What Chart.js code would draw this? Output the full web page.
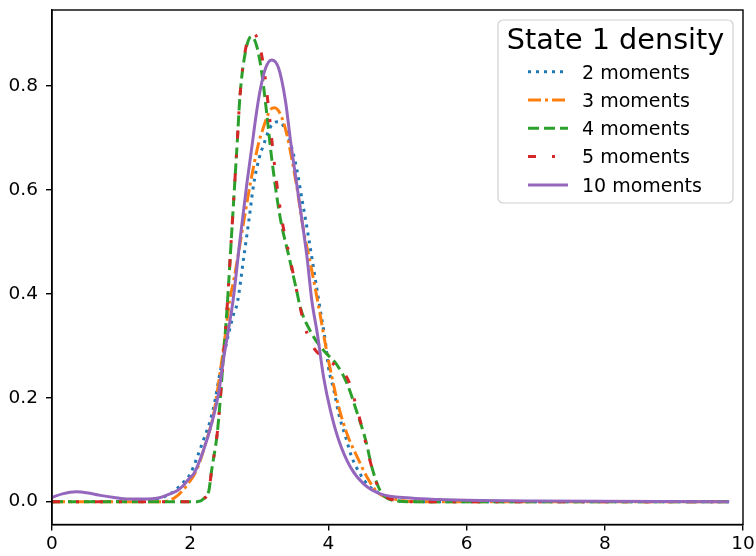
<!DOCTYPE html>
<html>
<head>
<meta charset="utf-8">
<script src="https://cdn.jsdelivr.net/npm/chart.js@4.4.1/dist/chart.umd.min.js"></script>
<style>
  html, body { margin: 0; padding: 0; background: #fff; }
  #wrap { width: 756px; height: 556px; }
</style>
</head>
<body>
<div id="wrap"><canvas id="densityChart" width="756" height="556"></canvas></div>
<script>
// values
const seriesNames = ['2 moments', '3 moments', '4 moments', '5 moments', '10 moments'];
const xTicks = [0, 2, 4, 6, 8, 10];
const yTicks = [0.0, 0.2, 0.4, 0.6, 0.8];

const x2 = [0, 1.2, 1.5, 1.7, 1.9, 2.0, 2.1, 2.19, 2.29, 2.36, 2.41, 2.5, 2.63, 2.68, 2.77, 2.85, 2.92, 2.99, 3.06, 3.18, 3.28, 3.4, 3.52, 3.62, 3.72, 3.79, 3.86, 3.96, 4.0, 4.08, 4.15, 4.25, 4.34, 4.46, 4.58, 4.75, 5.0, 5.3, 9.8];
const y2 = [0, 0.001, 0.005, 0.014, 0.037, 0.053, 0.085, 0.118, 0.156, 0.195, 0.233, 0.29, 0.362, 0.381, 0.465, 0.542, 0.612, 0.657, 0.686, 0.725, 0.731, 0.709, 0.654, 0.58, 0.503, 0.445, 0.387, 0.304, 0.259, 0.214, 0.169, 0.124, 0.085, 0.053, 0.031, 0.015, 0.002, 0, 0];

const x3 = [0, 1.6, 1.78, 1.95, 2.1, 2.22, 2.34, 2.43, 2.51, 2.57, 2.63, 2.77, 2.87, 2.99, 3.04, 3.16, 3.22, 3.3, 3.4, 3.47, 3.55, 3.64, 3.74, 3.81, 3.88, 3.96, 4.05, 4.15, 4.27, 4.42, 4.56, 4.71, 4.95, 5.3, 9.8];
const y3 = [0, 0, 0.008, 0.031, 0.063, 0.111, 0.169, 0.246, 0.323, 0.387, 0.426, 0.535, 0.612, 0.69, 0.712, 0.754, 0.758, 0.747, 0.706, 0.66, 0.6, 0.522, 0.458, 0.41, 0.36, 0.30, 0.24, 0.182, 0.13, 0.085, 0.047, 0.018, 0.005, 0, 0];

const x4 = [0, 2.1, 2.2, 2.27, 2.31, 2.39, 2.43, 2.48, 2.53, 2.6, 2.65, 2.68, 2.72, 2.8, 2.89, 2.97, 3.04, 3.11, 3.18, 3.3, 3.43, 3.55, 3.59, 3.76, 3.93, 4.13, 4.27, 4.42, 4.54, 4.63, 4.75, 4.95, 5.2, 9.8];
const y4 = [0, 0, 0.006, 0.021, 0.06, 0.13, 0.188, 0.278, 0.365, 0.516, 0.625, 0.69, 0.78, 0.866, 0.895, 0.873, 0.821, 0.744, 0.66, 0.548, 0.471, 0.40, 0.375, 0.323, 0.291, 0.262, 0.227, 0.169, 0.118, 0.066, 0.021, 0.002, 0, 0];

const x5 = [0, 2.1, 2.2, 2.27, 2.31, 2.39, 2.43, 2.48, 2.53, 2.6, 2.65, 2.68, 2.72, 2.8, 2.92, 3.0, 3.07, 3.14, 3.21, 3.32, 3.44, 3.55, 3.59, 3.64, 3.74, 3.91, 4.1, 4.29, 4.39, 4.5, 4.6, 4.72, 4.95, 5.2, 9.8];
const y5 = [0, 0, 0.006, 0.021, 0.06, 0.13, 0.188, 0.278, 0.365, 0.516, 0.625, 0.69, 0.78, 0.87, 0.9, 0.88, 0.83, 0.75, 0.66, 0.548, 0.471, 0.40, 0.375, 0.346, 0.307, 0.278, 0.262, 0.233, 0.19, 0.135, 0.08, 0.028, 0.003, 0, 0];

const x10 = [0, 0.15, 0.35, 0.55, 0.7, 0.9, 1.1, 1.3, 1.57, 1.71, 1.81, 1.9, 2.0, 2.05, 2.19, 2.31, 2.41, 2.48, 2.56, 2.62, 2.72, 2.82, 2.89, 2.95, 3.01, 3.09, 3.18, 3.28, 3.38, 3.45, 3.59, 3.69, 3.76, 3.84, 3.93, 4.03, 4.15, 4.32, 4.51, 4.75, 5.19, 5.6, 6.2, 7.0, 9.8];
const y10 = [0.008, 0.015, 0.019, 0.016, 0.012, 0.008, 0.005, 0.005, 0.008, 0.015, 0.021, 0.031, 0.047, 0.053, 0.098, 0.15, 0.208, 0.272, 0.336, 0.387, 0.503, 0.612, 0.68, 0.74, 0.79, 0.834, 0.85, 0.834, 0.77, 0.696, 0.567, 0.471, 0.387, 0.323, 0.24, 0.175, 0.118, 0.066, 0.034, 0.015, 0.007, 0.004, 0.002, 0.001, 0];

const seriesX = [x2, x3, x4, x5, x10];
const seriesY = [y2, y3, y4, y5, y10];
const colors = ['#1f77b4', '#ff7f0e', '#2ca02c', '#d62728', '#9467bd'];
const dashes = [[3, 5], [13, 4, 3, 4], [11, 5], [8, 16, 3, 16], []];

const FONT = 'DejaVu Sans';

function toPoints(xs, ys) {
    return xs.map((x, i) => ({ x: x, y: ys[i] }));
}

const datasets = seriesNames.map((name, i) => ({
    label: name,
    data: toPoints(seriesX[i], seriesY[i]),
    borderColor: colors[i],
    borderWidth: 3,
    borderDash: dashes[i],
    borderCapStyle: 'butt',
    pointRadius: 0,
    fill: false,
    cubicInterpolationMode: 'monotone',
    order: seriesNames.length - i  // later series drawn on top
}));

// frame (top/right spines) and the legend box inside the axes
const frameAndLegend = {
    id: 'frameAndLegend',
    afterDraw(chart) {
        const ctx = chart.ctx;
        const a = chart.chartArea;
        ctx.save();
        ctx.strokeStyle = '#000';
        ctx.lineWidth = 1.4;
        ctx.setLineDash([]);
        ctx.strokeRect(a.left, a.top, a.right - a.left, a.bottom - a.top);

        // legend
        const bx = 498, by = 20, bw = 235, bh = 183, r = 5;
        ctx.beginPath();
        ctx.moveTo(bx + r, by);
        ctx.arcTo(bx + bw, by, bx + bw, by + bh, r);
        ctx.arcTo(bx + bw, by + bh, bx, by + bh, r);
        ctx.arcTo(bx, by + bh, bx, by, r);
        ctx.arcTo(bx, by, bx + bw, by, r);
        ctx.closePath();
        ctx.fillStyle = 'rgba(255,255,255,0.8)';
        ctx.fill();
        ctx.strokeStyle = '#d0d0d0';
        ctx.lineWidth = 1.2;
        ctx.stroke();

        ctx.fillStyle = '#000';
        ctx.font = '28.7px "' + FONT + '"';
        ctx.textAlign = 'center';
        ctx.textBaseline = 'alphabetic';
        ctx.fillText('State 1 density', bx + bw / 2, 48.5);

        ctx.font = '19px "' + FONT + '"';
        ctx.textAlign = 'left';
        chart.data.datasets.forEach((ds, i) => {
            const yy = 71.7 + i * 28.3;
            ctx.beginPath();
            ctx.strokeStyle = ds.borderColor;
            ctx.lineWidth = ds.borderWidth;
            ctx.lineCap = 'butt';
            ctx.setLineDash(ds.borderDash);
            ctx.moveTo(528, yy);
            ctx.lineTo(568, yy);
            ctx.stroke();
            ctx.setLineDash([]);
            ctx.fillStyle = '#000';
            ctx.fillText(ds.label, 582, yy + 6.8);
        });
        ctx.restore();
    }
};

const ctx = document.getElementById('densityChart').getContext('2d');
const densityChart = new Chart(ctx, {
    type: 'line',
    data: { datasets: datasets },
    options: {
        responsive: false,
        animation: false,
        devicePixelRatio: 1,
        layout: { padding: { top: 10, right: 13, left: 0, bottom: 0 } },
        scales: {
            x: {
                type: 'linear',
                min: 0,
                max: 10,
                afterBuildTicks: (scale) => { scale.ticks = xTicks.map(v => ({ value: v })); },
                afterFit: (scale) => { scale.height = 31.5; scale.paddingLeft = 0; scale.paddingRight = 0; },
                ticks: {
                    color: '#000',
                    font: { family: FONT, size: 18.5 },
                    padding: 3,
                    maxRotation: 0,
                    autoSkip: false,
                    callback: (v) => String(v)
                },
                grid: { drawOnChartArea: false, tickLength: 6, tickColor: '#000', lineWidth: 1.4 },
                border: { color: '#000', width: 1.4 }
            },
            y: {
                type: 'linear',
                min: -0.044,
                max: 0.946,
                afterBuildTicks: (scale) => { scale.ticks = yTicks.map(v => ({ value: v })); },
                afterFit: (scale) => { scale.width = 52; scale.paddingTop = 0; scale.paddingBottom = 0; },
                ticks: {
                    color: '#000',
                    font: { family: FONT, size: 18.5 },
                    padding: 8,
                    autoSkip: false,
                    callback: (v) => v.toFixed(1)
                },
                grid: { drawOnChartArea: false, tickLength: 6, tickColor: '#000', lineWidth: 1.4 },
                border: { color: '#000', width: 1.4 }
            }
        },
        plugins: {
            legend: { display: false },
            tooltip: { enabled: false }
        }
    },
    plugins: [frameAndLegend]
});
</script>
</body>
</html>
